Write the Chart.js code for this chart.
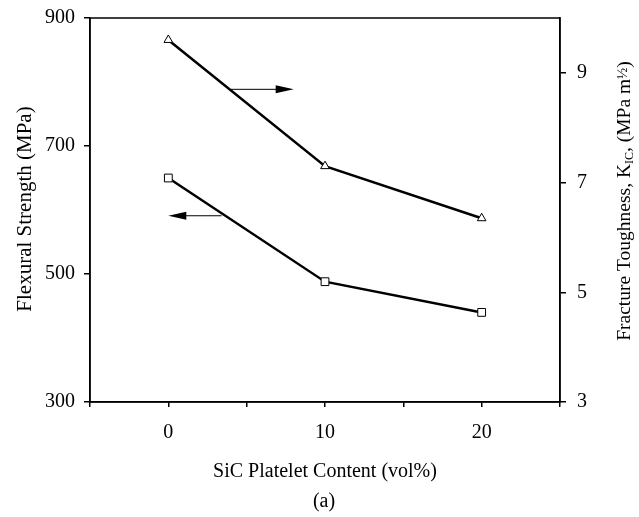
<!DOCTYPE html>
<html>
<head>
<meta charset="utf-8">
<script src="https://cdn.jsdelivr.net/npm/chart.js@4.4.0/dist/chart.umd.min.js"></script>
<style>
  html, body { margin: 0; padding: 0; background: #fff; }
  #wrap { width: 639px; height: 517px; }
</style>
</head>
<body>
<div id="wrap"><canvas id="myChart" width="639" height="517"></canvas></div>
<script>
// SiC platelet content, vol%
var content = [0, 10, 20];
// flexural strength on the left axis (MPa)
var strength = [650, 488, 440];
// fracture toughness on the right axis (MPa m^1/2)
var toughness = [9.6, 7.3, 6.35];
// tick labels
var xLabels = [0, 10, 20];
var leftTicks = [300, 500, 700, 900];
var rightTicks = [3, 5, 7, 9];

// the two arrows pointing at their axes (data coords)
var arrows = [
  { axis: 'y1', x0: 4.0, x1: 8.0, y: 8.7 },
  { axis: 'y', x0: 3.4, x1: 0, y: 591 }
];

var serif = "'Liberation Serif', 'Times New Roman', serif";

function pts(ys) {
  return content.map(function (c, i) { return { x: c, y: ys[i] }; });
}

// box, titles, arrows
var extras = {
  id: 'extras',
  afterDraw: function (chart) {
    var ctx = chart.ctx;
    var a = chart.chartArea;
    ctx.save();
    ctx.strokeStyle = '#000';
    ctx.lineWidth = 1.5;
    ctx.strokeRect(a.left, a.top, a.right - a.left, a.bottom - a.top);

    // arrows
    var xs = chart.scales.x;
    arrows.forEach(function (ar) {
      var ys = chart.scales[ar.axis];
      var px0 = xs.getPixelForValue(ar.x0), px1 = xs.getPixelForValue(ar.x1);
      var py = ys.getPixelForValue(ar.y);
      var dir = px1 > px0 ? 1 : -1;
      ctx.lineWidth = 1;
      ctx.beginPath();
      ctx.moveTo(px0, py);
      ctx.lineTo(px1 - dir * 14, py);
      ctx.stroke();
      ctx.beginPath();
      ctx.moveTo(px1, py);
      ctx.lineTo(px1 - dir * 18, py - 4);
      ctx.lineTo(px1 - dir * 18, py + 4);
      ctx.closePath();
      ctx.fillStyle = '#000';
      ctx.fill();
    });

    ctx.fillStyle = '#000';
    ctx.textBaseline = 'middle';
    ctx.textAlign = 'center';

    // left title
    ctx.font = '21px ' + serif;
    ctx.save();
    ctx.translate(25, 209);
    ctx.rotate(-Math.PI / 2);
    ctx.fillText('Flexural Strength (MPa)', 0, 0);
    ctx.restore();

    // right title with subscript/superscript
    ctx.save();
    ctx.translate(625, 201);
    ctx.rotate(-Math.PI / 2);
    var parts = [
      { t: 'Fracture Toughness, K', f: '19.5px ', dy: 0 },
      { t: 'IC', f: '12px ', dy: 5 },
      { t: ', (MPa m', f: '19.5px ', dy: 0 },
      { t: '\u00BD', f: '15px ', dy: -2 },
      { t: ')', f: '19.5px ', dy: 0 }
    ];
    var total = 0;
    parts.forEach(function (p) { ctx.font = p.f + serif; p.w = ctx.measureText(p.t).width; total += p.w; });
    var cx = -total / 2;
    ctx.textAlign = 'left';
    parts.forEach(function (p) {
      ctx.font = p.f + serif;
      ctx.fillText(p.t, cx, p.dy);
      cx += p.w;
    });
    ctx.restore();

    // x title and caption
    ctx.textAlign = 'center';
    ctx.font = '20px ' + serif;
    ctx.fillText('SiC Platelet Content (vol%)', 325, 472);
    ctx.font = '20px ' + serif;
    ctx.fillText('(a)', 324, 502);
    ctx.restore();
  }
};

var tickFont = { family: serif, size: 20 };

function fitY(width) {
  return function (s) { s.width = width; s.paddingTop = 0; s.paddingBottom = 0; };
}

var ctx = document.getElementById('myChart');
var myChart = new Chart(ctx, {
  type: 'line',
  data: {
    datasets: [
      {
        label: 'Flexural Strength',
        data: pts(strength),
        yAxisID: 'y',
        borderColor: '#000',
        borderWidth: 2.5,
        pointStyle: 'rect',
        pointRadius: 5.5,
        pointBorderWidth: 1,
        pointBackgroundColor: '#fff',
        pointBorderColor: '#000',
        fill: false
      },
      {
        label: 'Fracture Toughness',
        data: pts(toughness),
        yAxisID: 'y1',
        borderColor: '#000',
        borderWidth: 2.5,
        pointStyle: 'triangle',
        pointRadius: 5,
        pointBorderWidth: 1,
        pointBackgroundColor: '#fff',
        pointBorderColor: '#000',
        fill: false
      }
    ]
  },
  options: {
    responsive: false,
    animation: false,
    layout: { padding: { top: 18, left: 0, right: 0, bottom: 0 } },
    plugins: { legend: { display: false }, tooltip: { enabled: false } },
    scales: {
      x: {
        type: 'linear',
        min: -5, max: 25,
        afterFit: function (s) { s.height = 115; s.paddingLeft = 0; s.paddingRight = 0; },
        afterBuildTicks: function (s) {
          s.ticks = [-5, 0, 5, 10, 15, 20, 25].map(function (v) { return { value: v }; });
        },
        ticks: {
          color: '#000',
          font: tickFont,
          padding: 14,
          maxRotation: 0,
          autoSkip: false,
          callback: function (v) { return xLabels.indexOf(v) >= 0 ? String(v) : ''; }
        },
        grid: { drawOnChartArea: false, tickLength: 5, color: '#000', lineWidth: 1.5 },
        border: { color: '#000', width: 1.5 }
      },
      y: {
        position: 'left',
        min: 300, max: 900,
        afterFit: fitY(90),
        afterBuildTicks: function (s) {
          s.ticks = leftTicks.map(function (v) { return { value: v }; });
        },
        ticks: { color: '#000', font: tickFont, padding: 9 },
        grid: { drawOnChartArea: false, tickLength: 6, color: '#000', lineWidth: 1.5 },
        border: { color: '#000', width: 1.5 }
      },
      y1: {
        position: 'right',
        min: 3, max: 10,
        afterFit: fitY(79),
        afterBuildTicks: function (s) {
          s.ticks = rightTicks.map(function (v) { return { value: v }; });
        },
        ticks: { color: '#000', font: tickFont, padding: 11 },
        grid: { drawOnChartArea: false, tickLength: 6, color: '#000', lineWidth: 1.5 },
        border: { color: '#000', width: 1.5 }
      }
    }
  },
  plugins: [extras]
});
</script>
</body>
</html>
